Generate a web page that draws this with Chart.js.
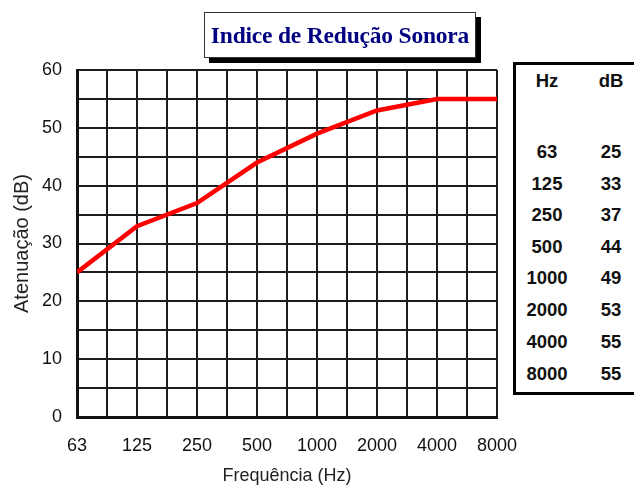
<!DOCTYPE html>
<html>
<head>
<meta charset="utf-8">
<script src="https://cdn.jsdelivr.net/npm/chart.js@4/dist/chart.umd.min.js"></script>
<style>
  html, body { margin: 0; padding: 0; background: #fff; overflow: hidden; }
  #wrap { position: relative; width: 634px; height: 487px; overflow: hidden; }
  #c { position: absolute; left: 0; top: 0; }
  #title {
    position: absolute; left: 204px; top: 12px; width: 270px; height: 44px;
    border: 1px solid #333; background: #fff; box-shadow: 5px 5px 0 #000;
    font-family: "Liberation Serif", "Times New Roman", serif; font-weight: bold;
    font-size: 23.5px; color: #000080; text-align: center; line-height: 44px;
    white-space: nowrap; letter-spacing: -0.2px;
  }
  #table {
    position: absolute; left: 513px; top: 62px; width: 140px; height: 327px;
    border: 3px solid #000; background: #fff;
  }
  .cell {
    position: absolute; width: 60px; text-align: center;
    font-family: "Liberation Sans", Arial, sans-serif; font-weight: bold;
    font-size: 18.5px; color: #111; line-height: 20px; height: 20px;
  }
</style>
</head>
<body>
<div id="wrap">
  <canvas id="c" width="634" height="487"></canvas>
  <div id="title">Indice de Redução Sonora</div>
  <div id="table"></div>
</div>
<script>
// ---- data ----
const freqLabels = ['63', '125', '250', '500', '1000', '2000', '4000', '8000'];
const attenuation = [25, 33, 37, 44, 49, 53, 55, 55];
const tableHeaders = ['Hz', 'dB'];
const yTickValues = [0, 10, 20, 30, 40, 50, 60];
const chartTitle = 'Indice de Redução Sonora';
const xTitle = 'Frequência (Hz)';
const yTitle = 'Atenuação (dB)';

// ---- table overlay ----
const table = document.getElementById('table');
const colCenters = [547 - 516, 611 - 516];
const headerY = 81 - 65;
const rowYs = [151.5, 183.5, 215, 246.5, 278, 310, 341.5, 373.5].map(v => v - 65);
function addCell(text, cx, cy) {
  const d = document.createElement('div');
  d.className = 'cell';
  d.textContent = text;
  d.style.left = (cx - 30) + 'px';
  d.style.top = (cy - 10) + 'px';
  table.appendChild(d);
}
tableHeaders.forEach((h, i) => addCell(h, colCenters[i], headerY));
freqLabels.forEach((f, i) => {
  addCell(f, colCenters[0], rowYs[i]);
  addCell(String(attenuation[i]), colCenters[1], rowYs[i]);
});
document.getElementById('title').textContent = chartTitle;

// ---- chart ----
const points = freqLabels.map((f, i) => ({ x: i, y: attenuation[i] }));
const gridColor = '#1e1e1e';
new Chart(document.getElementById('c'), {
  type: 'line',
  data: {
    datasets: [{
      data: points,
      borderColor: '#ff0000',
      borderWidth: 4.5,
      pointRadius: 0,
      tension: 0,
      fill: false
    }]
  },
  options: {
    responsive: false,
    animation: false,
    layout: { padding: { left: 0, right: 137, top: 70, bottom: 0 } },
    plugins: { legend: { display: false }, tooltip: { enabled: false }, title: { display: false } },
    scales: {
      x: {
        type: 'linear',
        min: 0,
        max: freqLabels.length - 1,
        afterFit: s => { s.height = 70; },
        grid: { color: gridColor, lineWidth: 2, drawTicks: false },
        border: { color: '#111', width: 3 },
        ticks: {
          stepSize: 0.5,
          autoSkip: false,
          maxRotation: 0,
          padding: 18,
          color: '#111',
          font: { family: '"Liberation Sans", Arial, sans-serif', size: 18 },
          callback: v => Number.isInteger(v) ? freqLabels[v] : ''
        },
        title: {
          display: true,
          text: xTitle,
          color: '#222',
          font: { family: '"Liberation Sans", Arial, sans-serif', size: 18 },
          padding: { top: 0, bottom: 0 }
        }
      },
      y: {
        min: 0,
        max: 60,
        afterFit: s => { s.width = 77; },
        grid: { color: gridColor, lineWidth: 2, drawTicks: false },
        border: { color: '#111', width: 3 },
        ticks: {
          stepSize: 5,
          padding: 15,
          color: '#111',
          font: { family: '"Liberation Sans", Arial, sans-serif', size: 18 },
          callback: v => yTickValues.includes(v) ? String(v) : ''
        },
        title: {
          display: true,
          text: yTitle,
          color: '#222',
          font: { family: '"Liberation Sans", Arial, sans-serif', size: 20 },
          padding: { top: 10, bottom: 0 }
        }
      }
    }
  }
});
</script>
</body>
</html>
